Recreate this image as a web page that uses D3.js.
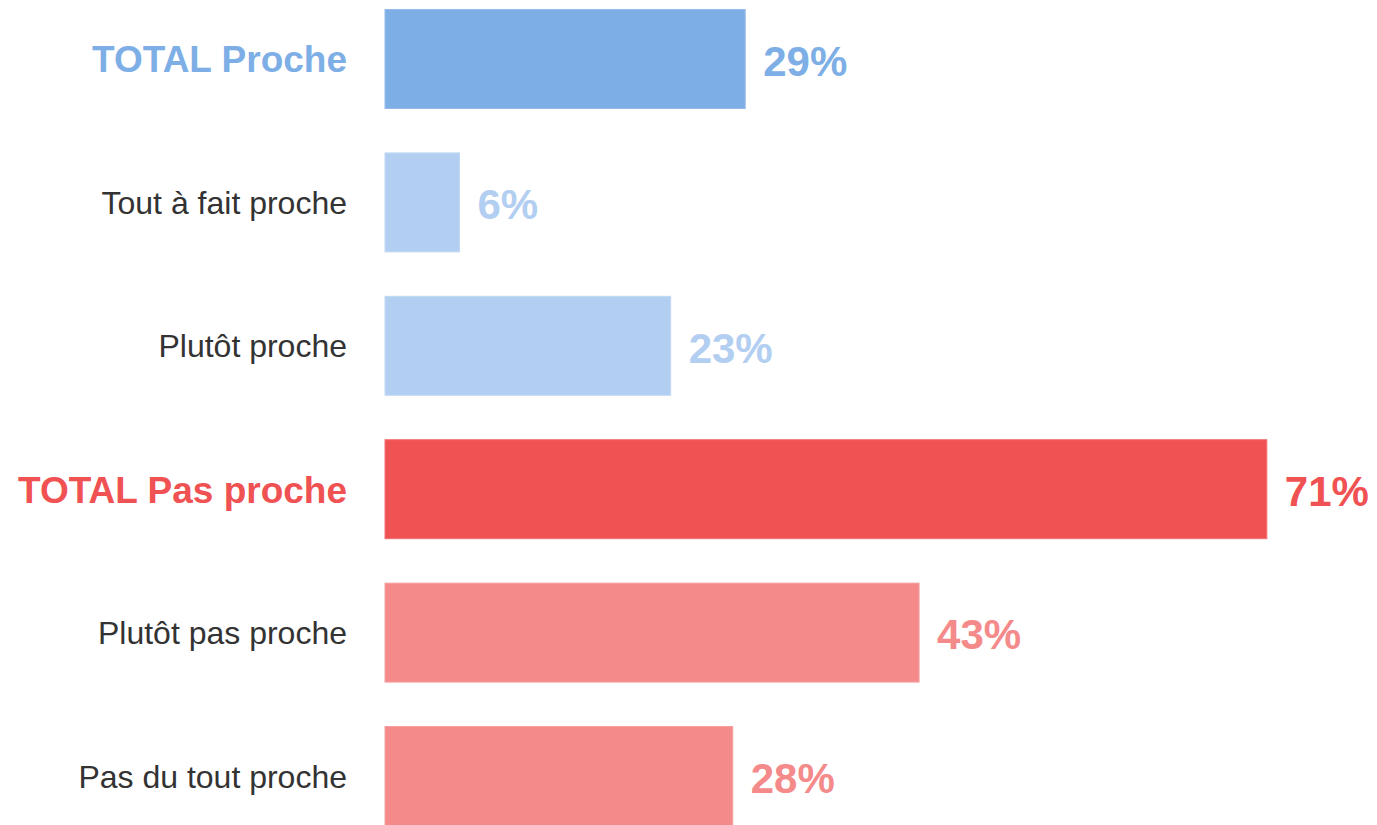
<!DOCTYPE html>
<html>
<head>
<meta charset="utf-8">
<script src="https://cdn.jsdelivr.net/npm/d3@7"></script>
<style>
  body { margin: 0; background: #fff; }
  text { font-family: "Liberation Sans", Arial, sans-serif; }
</style>
</head>
<body>
<div id="chart"></div>
<script>
const width = 1377;
const height = 825;

const categories = ["TOTAL Proche", "Tout à fait proche", "Plutôt proche", "TOTAL Pas proche", "Plutôt pas proche", "Pas du tout proche"];
const values = [29, 6, 23, 71, 43, 28];
const isTotal = [true, false, false, true, false, false];
const group = ["proche", "proche", "proche", "pas", "pas", "pas"];

const fills = { proche: ["#7eaee6", "#b2cef1"], pas: ["#f05152", "#f48a8a"] };
const strokes = { proche: ["#94bbea", "#c0d7f3"], pas: ["#f37071", "#f6a0a0"] };

const data = categories.map((c, i) => ({ cat: c, value: values[i], total: isTotal[i], group: group[i] }));

const svg = d3.select("#chart")
    .append("svg")
    .attr("width", width)
    .attr("height", height);

const xScale = d3.scaleLinear()
    .domain([0, 100])
    .range([385, 385 + 1242]);

const yScale = d3.scaleBand()
    .domain(categories)
    .range([-12.7, 847.7])
    .paddingInner(0.303)
    .paddingOuter(0.1515);

const fillOf = d => fills[d.group][d.total ? 0 : 1];
const strokeOf = d => strokes[d.group][d.total ? 0 : 1];

// bars
svg.selectAll("rect.bar")
    .data(data)
    .enter()
    .append("rect")
    .attr("class", "bar")
    .attr("x", xScale(0))
    .attr("y", d => yScale(d.cat) + 0.5)
    .attr("width", d => xScale(d.value) - xScale(0))
    .attr("height", yScale.bandwidth() - 1)
    .attr("fill", fillOf)
    .attr("stroke", strokeOf)
    .attr("stroke-width", 1);

// category labels
svg.selectAll("text.cat")
    .data(data)
    .enter()
    .append("text")
    .attr("class", "cat")
    .attr("x", 347)
    .attr("y", d => yScale(d.cat) + yScale.bandwidth() / 2)
    .attr("dy", "0.36em")
    .attr("text-anchor", "end")
    .style("font-size", d => d.total ? "37px" : "32px")
    .style("font-weight", d => d.total ? "bold" : "normal")
    .style("fill", d => d.total ? fillOf(d) : "#333333")
    .text(d => d.cat);

// value labels
svg.selectAll("text.val")
    .data(data)
    .enter()
    .append("text")
    .attr("class", "val")
    .attr("x", d => xScale(d.value) + 18)
    .attr("y", d => yScale(d.cat) + yScale.bandwidth() / 2)
    .attr("dy", "0.4em")
    .style("font-size", "42px")
    .style("font-weight", "bold")
    .style("fill", fillOf)
    .text(d => d.value + "%");
</script>
</body>
</html>
